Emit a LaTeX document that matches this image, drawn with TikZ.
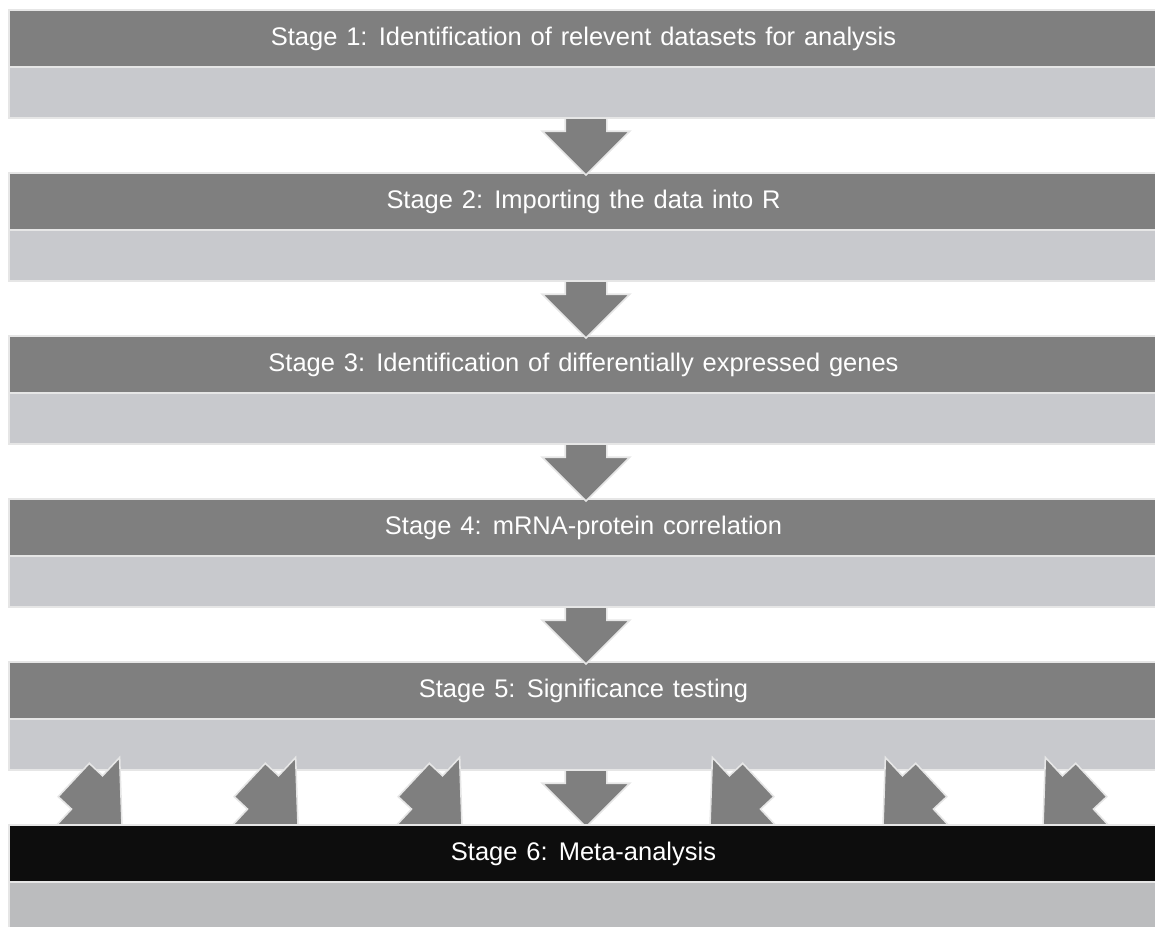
\documentclass[tikz,border=0pt]{standalone}
\usepackage{fontspec}
\setmainfont{Liberation Sans}[WordSpace=1.25]
\usetikzlibrary{shapes.arrows}

\definecolor{HeaderColor}{rgb}{0.498,0.498,0.498}
\definecolor{BandColor}{rgb}{0.784,0.788,0.804}
\definecolor{FinalHeaderColor}{rgb}{0.051,0.051,0.051}
\definecolor{FinalBandColor}{rgb}{0.733,0.737,0.745}
\definecolor{EdgeColor}{rgb}{0.902,0.902,0.902}
\tikzstyle{stage-base}=[rectangle,
                        draw=EdgeColor,
                        line width=0.9pt,
                        inner sep=0pt,
                        outer sep=0pt,
                        text centered,
                        minimum width=22.98cm,
                       ]
\tikzstyle{stage-head}=[stage-base,
                        fill={HeaderColor},
                        text=white,
                        font=\fontsize{14.5}{17}\selectfont,
                        minimum height=1.14cm]
\tikzstyle{stage-band}=[stage-base,
                        fill={BandColor},
                        minimum height=1.02cm]
\tikzstyle{flow-arrow}=[single arrow,
                        draw=EdgeColor,
                        line width=0.9pt,
                        fill={HeaderColor},
                        minimum height=1.14cm,
                        minimum width=0cm,
                        inner xsep=0pt,
                        inner ysep=0.4cm,
                        outer sep=0pt,
                        single arrow head extend=0.46cm,
                        single arrow tip angle=90]
\tikzstyle{meta-arrow}=[flow-arrow,
                        minimum height=1.32cm,
                        inner ysep=0.44cm,
                        single arrow head extend=0.5cm]

\begin{document}
\begin{tikzpicture}
\useasboundingbox (0cm, 0cm) rectangle (23.1cm, -18.52cm);

\node at (11.67cm,  -0.77cm) (stage_head1) [stage-head] {Stage 1: Identification of relevent datasets for analysis};
\node at (11.67cm,  -1.85cm) (stage_band1) [stage-band] {};
\node at (11.67cm,  -4.03cm) (stage_head2) [stage-head] {Stage 2: Importing the data into R};
\node at (11.67cm,  -5.11cm) (stage_band2) [stage-band] {};
\node at (11.67cm,  -7.29cm) (stage_head3) [stage-head] {Stage 3: Identification of differentially expressed genes};
\node at (11.67cm,  -8.37cm) (stage_band3) [stage-band] {};
\node at (11.67cm, -10.55cm) (stage_head4) [stage-head] {Stage 4: mRNA-protein correlation};
\node at (11.67cm, -11.63cm) (stage_band4) [stage-band] {};
\node at (11.67cm, -13.81cm) (stage_head5) [stage-head] {Stage 5: Significance testing};
\node at (11.67cm, -14.89cm) (stage_band5) [stage-band] {};

\node at (11.72cm,  -2.36cm) (stage_arrow1) [flow-arrow, rotate=-90, anchor=tail] {};
\node at (11.72cm,  -5.62cm) (stage_arrow2) [flow-arrow, rotate=-90, anchor=tail] {};
\node at (11.72cm,  -8.88cm) (stage_arrow3) [flow-arrow, rotate=-90, anchor=tail] {};
\node at (11.72cm, -12.14cm) (stage_arrow4) [flow-arrow, rotate=-90, anchor=tail] {};
\node at (11.72cm, -15.40cm) (stage_arrow5) [flow-arrow, rotate=-90, anchor=tail] {};

\node at (2.44cm,  -16.50cm) (meta_arrow1) [meta-arrow, rotate=-43, anchor=tip] {};
\node at (5.96cm,  -16.50cm) (meta_arrow2) [meta-arrow, rotate=-43, anchor=tip] {};
\node at (9.24cm,  -16.50cm) (meta_arrow3) [meta-arrow, rotate=-43, anchor=tip] {};
\node at (14.20cm, -16.50cm) (meta_arrow4) [meta-arrow, rotate=-137, anchor=tip] {};
\node at (17.66cm, -16.50cm) (meta_arrow5) [meta-arrow, rotate=-137, anchor=tip] {};
\node at (20.86cm, -16.50cm) (meta_arrow6) [meta-arrow, rotate=-137, anchor=tip] {};

\node at (11.67cm, -17.07cm) (stage_head6) [stage-head, fill=FinalHeaderColor] {Stage 6: Meta-analysis};
\node at (11.67cm, -18.15cm) (stage_band6) [stage-band, fill=FinalBandColor] {};
\end{tikzpicture}
\end{document}
